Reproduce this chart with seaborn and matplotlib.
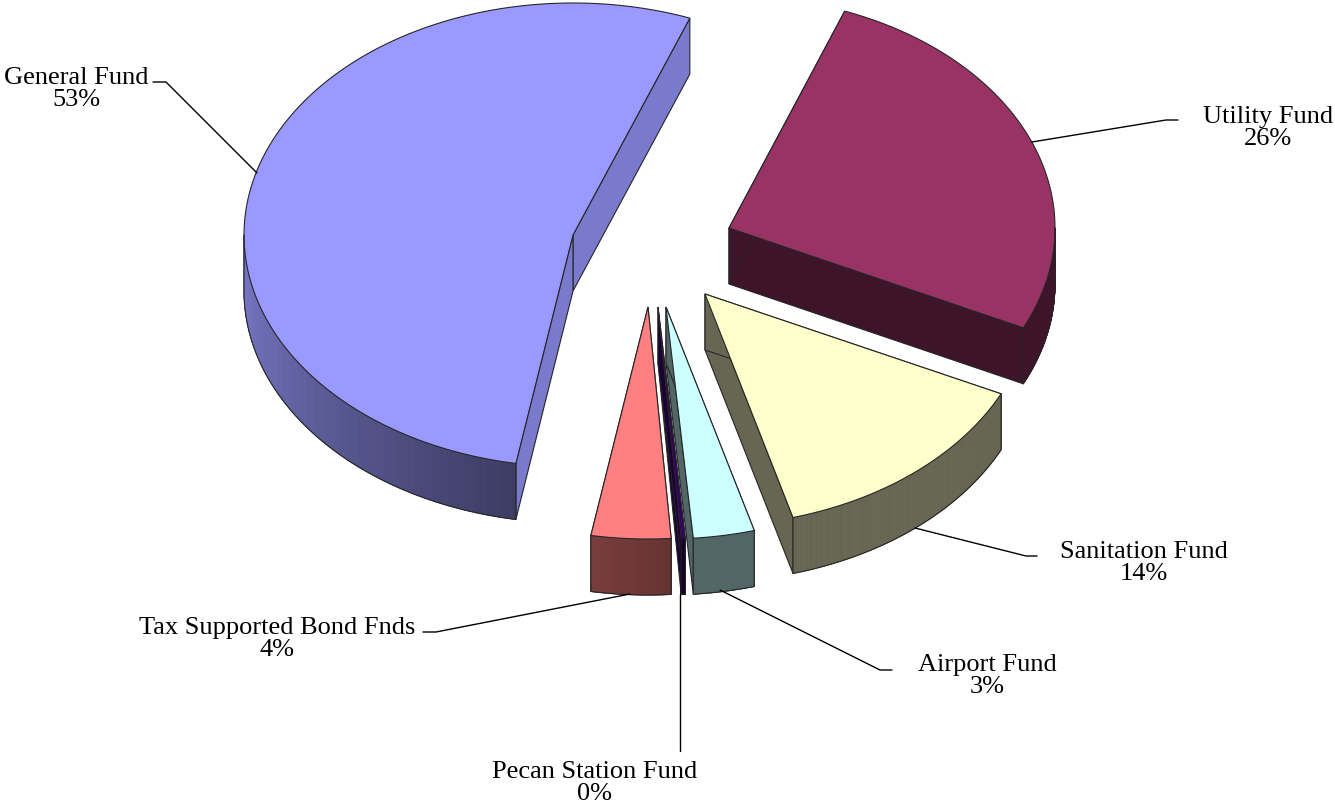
import numpy as np
import matplotlib
matplotlib.use('Agg')
import matplotlib.pyplot as plt
from matplotlib.collections import PolyCollection
import seaborn as sns

# slices in the order they run round the pie
funds = ['General Fund', 'Tax Supported Bond Fnds', 'Pecan Station Fund',
         'Airport Fund', 'Sanitation Fund', 'Utility Fund']
shares = [53.0, 3.9, 0.2, 3.0, 13.6, 26.3]
pct_labels = ['53%', '4%', '0%', '3%', '14%', '26%']
top_colors = ['#9999FF', '#FF8080', '#330066', '#CCFFFF', '#FFFFCC', '#993366']

# layout of the exploded pie, in pixels
start_angle = 69.2
apex_x = [573, 648, 658, 666, 705, 729]
apex_y = [235, 307, 307, 307, 294, 228]
radius_x = [329, 329, 329, 329, 328, 326]
radius_y = 232
depth = 56
face_shade = [0.8, 0.4, 0.5, 0.4, 0.4, 0.4]
wall_shade_left = [0.8, 0.48, 0.4, 0.4, 0.4, 0.4]
wall_shade_right = [0.39, 0.4, 0.4, 0.4, 0.4, 0.4]
draw_order = [0, 5, 4, 1, 2, 3]

label_x = [76, 277, 595, 987, 1144, 1268]
label_y = [89, 639, 783, 676, 563, 128]
leader_x = [[153, 166, 257], [423, 436, 630], [680, 680], [892, 880, 720], [1037, 1026, 915], [1178, 1166, 1032]]
leader_y = [[82, 82, 173], [632, 632, 594], [751, 594], [670, 670, 590], [556, 556, 528], [120, 120, 142]]

sns.set_theme(style='white')
plt.rcParams['font.family'] = ['Liberation Serif', 'DejaVu Serif']
palette = sns.color_palette(top_colors)

fig, ax = plt.subplots(figsize=(13.35, 8.11), dpi=100)
fig.subplots_adjust(0, 0, 1, 1)
ax.set_xlim(0, 1335)
ax.set_ylim(811, 0)
ax.axis('off')

edge = '#262626'
lw = 0.8
ends = start_angle + np.cumsum(shares) * 3.6
starts = ends - np.array(shares) * 3.6


def arc(i, t0, t1, n=160):
    t = np.radians(np.linspace(t0, t1, n))
    return apex_x[i] + radius_x[i] * np.cos(t), apex_y[i] - radius_y * np.sin(t)


def shaded(col, s):
    return tuple(c * s for c in col)


for i in draw_order:
    col = palette[i]
    t0, t1 = starts[i], ends[i]
    x, y = arc(i, t0, t1)

    # cut faces
    for xe, ye in [(x[0], y[0]), (x[-1], y[-1])]:
        ax.fill([apex_x[i], xe, xe, apex_x[i]],
                [apex_y[i], ye, ye + depth, apex_y[i] + depth],
                facecolor=shaded(col, face_shade[i]), edgecolor=edge, linewidth=lw)

    # outer wall, only the part that faces the viewer
    w0, w1 = max(t0, 180), min(t1, 360)
    if w1 > w0:
        wx, wy = arc(i, w0, w1)
        quads = [[(wx[k], wy[k]), (wx[k + 1], wy[k + 1]), (wx[k + 1], wy[k + 1] + depth), (wx[k], wy[k] + depth)]
                 for k in range(len(wx) - 1)]
        shades = np.linspace(wall_shade_left[i], wall_shade_right[i], len(quads))
        if wx[0] > wx[-1]:
            shades = shades[::-1]
        cols = [shaded(col, s) for s in shades]
        ax.add_collection(PolyCollection(quads, facecolors=cols, edgecolors=cols, linewidths=0.6))
        ax.plot(np.r_[wx[0], wx, wx[-1]], np.r_[wy[0], wy + depth, wy[-1]], color=edge, lw=lw)

    # top
    ax.fill(np.r_[apex_x[i], x], np.r_[apex_y[i], y], facecolor=col, edgecolor=edge, linewidth=lw)

for i in range(len(funds)):
    ax.plot(leader_x[i], leader_y[i], color='black', lw=1.0, solid_joinstyle='miter')
    ax.text(label_x[i], label_y[i], funds[i] + '\n' + pct_labels[i], ha='center', va='center',
            fontsize=19, color='black', linespacing=1.05)

fig.savefig('out.png', dpi=100)
